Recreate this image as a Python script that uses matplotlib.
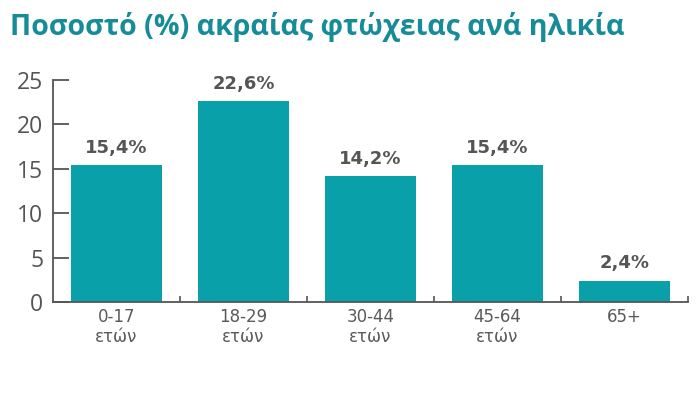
import numpy as np
import matplotlib.pyplot as plt

plt.rcParams['font.family'] = ['DejaVu Sans']

ages = ['0-17\nετών', '18-29\nετών', '30-44\nετών', '45-64\nετών', '65+']
rates = [15.4, 22.6, 14.2, 15.4, 2.4]
rate_labels = ['15,4%', '22,6%', '14,2%', '15,4%', '2,4%']
yticks = [0, 5, 10, 15, 20, 25]

bar_col = '#09a0aa'
title_col = '#168c98'
grey = '#555555'

fig = plt.figure(figsize=(7, 3.93), dpi=100)
ax = fig.add_axes([0.0757, 0.2316, 0.907, 0.5648])

x = np.arange(len(rates))
ax.bar(x, rates, width=0.72, color=bar_col, zorder=2)

for xi, v, lab in zip(x, rates, rate_labels):
    ax.annotate(lab, (xi, v), xytext=(0, 6), textcoords='offset points',
                ha='center', va='bottom', fontsize=13, fontweight='bold', color=grey)

ax.set_xlim(-0.5, 4.5)
ax.set_ylim(0, 25)
ax.set_yticks(yticks)
ax.set_yticklabels([str(t) for t in yticks], fontsize=16.5, color=grey,
                   family=['Open Sans', 'DejaVu Sans'])
ax.tick_params(axis='y', direction='in', length=11.5, width=1.3, color=grey, pad=7)

ax.set_xticks(x)
ax.set_xticklabels(ages, fontsize=12, color='#5a5a5a', linespacing=1.15)
ax.tick_params(axis='x', which='major', length=0, pad=4)
ax.set_xticks(list(x + 0.5), minor=True)
ax.tick_params(axis='x', which='minor', direction='in', length=4, width=1.2, color=grey)

for s in ['top', 'right']:
    ax.spines[s].set_visible(False)
for s in ['left', 'bottom']:
    ax.spines[s].set_color(grey)
    ax.spines[s].set_linewidth(1.3)

fig.text(0.014, 0.931, 'Ποσοστό (%) ακραίας φτώχειας ανά ηλικία', fontsize=20.5,
         fontweight='bold', color=title_col, ha='left', va='center',
         family=['Open Sans', 'DejaVu Sans'])

fig.savefig('out.png', dpi=100)
